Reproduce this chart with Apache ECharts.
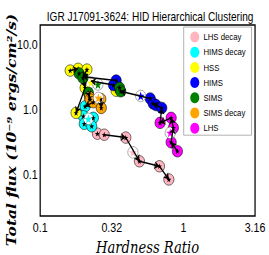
<!DOCTYPE html>
<html><head><meta charset="utf-8">
<script src="https://cdn.jsdelivr.net/npm/echarts@6/dist/echarts.min.js"></script>
<style>
html,body{margin:0;padding:0;background:#fff;overflow:hidden}
#wrap{width:269px;height:255px;overflow:hidden;position:relative}
#c{width:328px;height:255px;transform:scaleX(0.8201);transform-origin:0 0;position:absolute;left:0;top:0}
</style>
</head><body><div id="wrap"><div id="c"></div></div>
<script>
// ---- data ----
const clusterNames = ['LHS decay', 'HIMS decay', 'HSS', 'HIMS', 'SIMS', 'SIMS decay', 'LHS'];
const clusterColors = ['#FFB6C1', '#00FFFF', '#FFFF00', '#0000FF', '#008000', '#FFA500', '#FF00FF'];

const lhsDecayX = [0.251, 0.280, 0.396, 0.493, 0.680, 0.791];
const lhsDecayY = [0.425, 0.410, 0.370, 0.160, 0.134, 0.084];
const himsDecayX = [0.206, 0.200, 0.235, 0.203, 0.229];
const himsDecayY = [1.12, 0.79, 0.745, 0.603, 0.553];
const hssX = [0.162, 0.184, 0.212, 0.206, 0.339, 0.178];
const hssY = [3.98, 4.23, 4.12, 2.16, 1.95, 0.889];
const himsX = [0.339, 0.325, 0.586, 0.615, 0.645, 0.706];
const himsY = [2.80, 2.38, 1.48, 1.24, 1.17, 1.06];
const simsX = [0.187, 0.199, 0.217, 0.358, 0.365];
const simsY = [3.60, 3.07, 1.81, 2.16, 1.91];
const simsDecayX = [0.221, 0.223, 0.235, 0.265, 0.267];
const simsDecayY = [1.55, 1.43, 1.30, 1.45, 1.06];
const lhsX = [0.687, 0.821, 0.851, 0.821, 0.908];
const lhsY = [0.624, 0.745, 0.523, 0.314, 0.228];

// cluster centres (white circle, coloured star), same order as clusterNames
const centroidX = [0.444, 0.217, 0.226, 0.503, 0.253, 0.255, 0.809];
const centroidY = [0.220, 0.720, 2.60, 1.62, 2.43, 1.51, 0.438];

// arrows (from -> to)
const arrowFromX = [0.908, 0.821, 0.851, 0.821, 0.687, 0.706, 0.586, 0.339, 0.325, 0.162, 0.212, 0.199, 0.206, 0.217, 0.265, 0.235, 0.280, 0.396, 0.493, 0.680];
const arrowFromY = [0.228, 0.314, 0.523, 0.745, 0.624, 1.06, 1.48, 2.80, 2.38, 3.98, 4.12, 3.07, 2.16, 1.81, 1.45, 1.30, 0.410, 0.370, 0.160, 0.134];
const arrowToX = [0.821, 0.851, 0.821, 0.687, 0.706, 0.615, 0.365, 0.199, 0.226, 0.184, 0.199, 0.206, 0.178, 0.221, 0.267, 0.206, 0.396, 0.493, 0.680, 0.791];
const arrowToY = [0.314, 0.523, 0.745, 0.624, 1.06, 1.24, 1.91, 3.20, 2.75, 4.23, 3.07, 2.16, 0.889, 1.55, 1.06, 1.12, 0.370, 0.160, 0.134, 0.084];

const xTickValues = [0.1, 0.316227766, 1, 3.16227766];
const xTickLabels = ['0.1', '0.32', '1', '3.16'];
const yTickValues = [0.1, 1, 10];
const yTickLabels = ['0.1', '1.0', '10.0'];

const titleText = 'IGR J17091-3624: HID Hierarchical Clustering';
const xName = 'Hardness Ratio';
const yName = 'Total flux (10\u207B\u2079 ergs/cm\u00B2/s)';

// ---- chart ----
const SANS = "'Liberation Sans', Arial, sans-serif";
const STAR = 'path://M0,-10L2.35,-3.24L9.51,-3.09L3.8,1.24L5.88,8.09L0,4L-5.88,8.09L-3.8,1.24L-9.51,-3.09L-2.35,-3.24Z';
const clusterXs = [lhsDecayX, himsDecayX, hssX, himsX, simsX, simsDecayX, lhsX];
const clusterYs = [lhsDecayY, himsDecayY, hssY, himsY, simsY, simsDecayY, lhsY];

function tickFormatter(values, labels) {
  return function (v) {
    for (let i = 0; i < values.length; i++) {
      if (Math.abs(Math.log10(v) - Math.log10(values[i])) < 0.01) return labels[i];
    }
    return '';
  };
}

const markerSeries = [];
clusterNames.forEach((name, k) => {
  const pts = clusterXs[k].map((x, i) => [x, clusterYs[k][i]]);
  markerSeries.push({
    name: name,
    type: 'scatter',
    symbol: 'circle',
    symbolSize: [12.5, 11.5],
    itemStyle: { color: clusterColors[k], borderColor: '#000', borderWidth: 0.6, opacity: 1 },
    emphasis: { disabled: true },
    silent: true,
    data: pts.concat([{ value: [centroidX[k], centroidY[k]], itemStyle: { color: '#ffffff', borderColor: '#666' } }]),
    z: 3
  });
  markerSeries.push({
    name: name + ' star',
    type: 'scatter',
    symbol: STAR,
    symbolKeepAspect: true,
    symbolSize: 6,
    itemStyle: { color: '#000', opacity: 1 },
    emphasis: { disabled: true },
    silent: true,
    data: pts.concat([{ value: [centroidX[k], centroidY[k]], symbolSize: 9.5, itemStyle: { color: clusterColors[k] } }]),
    z: 3
  });
});

const arrowSeries = {
  type: 'lines',
  coordinateSystem: 'cartesian2d',
  symbol: ['none', 'arrow'],
  symbolSize: 6,
  lineStyle: { color: '#000', width: 1.5, opacity: 1 },
  silent: true,
  z: 4,
  data: arrowFromX.map((fx, i) => ({ coords: [[fx, arrowFromY[i]], [arrowToX[i], arrowToY[i]]] }))
};

const chart = echarts.init(document.getElementById('c'), null, { renderer: 'svg' });
chart.setOption({
  animation: false,
  backgroundColor: '#fff',
  title: {
    text: titleText, left: 52, top: 6,
    textStyle: { fontFamily: SANS, fontSize: 12.3, fontWeight: 'normal', color: '#000' }
  },
  legend: {
    data: clusterNames, orient: 'vertical', left: 224, top: 27,
    icon: 'circle', itemWidth: 11, itemHeight: 11, itemGap: 4.2,
    padding: [4.5, 7, 1.5, 8],
    borderColor: '#aaa', borderWidth: 1, backgroundColor: '#fff',
    itemStyle: { borderWidth: 0 },
    textStyle: { fontFamily: SANS, fontSize: 9.5, color: '#000' }
  },
  grid: { left: 49, top: 25, right: 17, bottom: 39, show: true, borderColor: '#000', borderWidth: 1.5, outerBoundsMode: 'none', containLabel: false },
  xAxis: {
    type: 'log', logBase: 3.16227766, min: 0.1, max: 3.16227766,
    name: xName, nameLocation: 'middle', nameGap: 18,
    nameTextStyle: { fontFamily: 'DejaVu Serif', fontStyle: 'italic', fontSize: 16, color: '#000' },
    axisLine: { show: false }, axisTick: { show: false }, splitLine: { show: false },
    axisLabel: { formatter: tickFormatter(xTickValues, xTickLabels), fontFamily: SANS, fontSize: 13, color: '#000', margin: 5, showMinLabel: true, showMaxLabel: true }
  },
  yAxis: {
    type: 'log', logBase: 10, min: 0.023, max: 20,
    axisLine: { show: false }, axisTick: { show: false }, splitLine: { show: false },
    axisLabel: { formatter: tickFormatter(yTickValues, yTickLabels), fontFamily: SANS, fontSize: 13, color: '#000', margin: 3 }
  },
  graphic: [{
    type: 'text', x: 14, y: 130, rotation: Math.PI / 2, silent: true,
    style: {
      text: yName, fill: '#000', align: 'center', verticalAlign: 'middle',
      textAlign: 'center', textVerticalAlign: 'middle',
      font: "italic bold 15.5px 'DejaVu Serif'"
    }
  }],
  series: markerSeries.concat([arrowSeries])
});
</script></body></html>
